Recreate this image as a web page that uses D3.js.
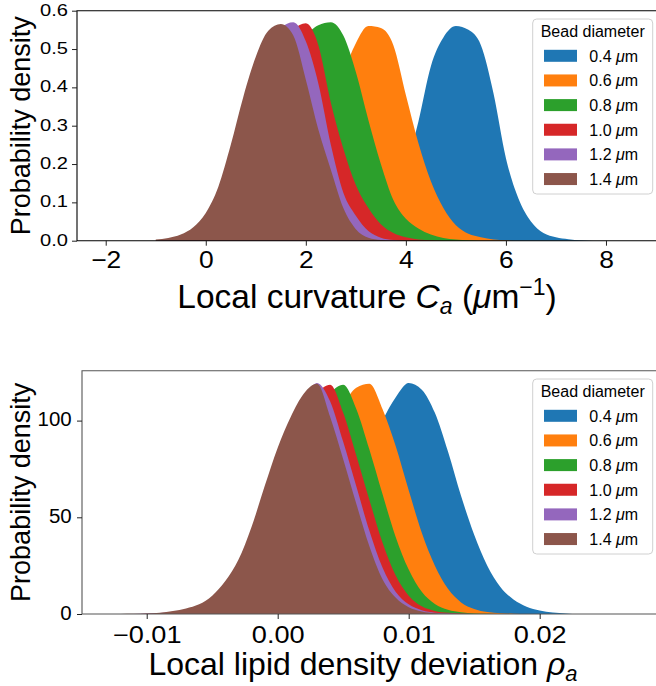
<!DOCTYPE html>
<html>
<head>
<meta charset="utf-8">
<script src="https://cdn.jsdelivr.net/npm/d3@7"></script>
<style>
  body { margin: 0; background: #fff; }
  svg { display: block; font-family: "Liberation Sans", Arial, sans-serif; }
</style>
</head>
<body>
<div id="chart"></div>
<script>
// legend labels and colours (tab10)
var beadLabels = ["0.4", "0.6", "0.8", "1.0", "1.2", "1.4"];
var beadColors = ["#1f77b4", "#ff7f0e", "#2ca02c", "#d62728", "#9467bd", "#8c564b"];

// ---- top panel: local curvature, bin centres (um^-1) ----
var curvBins = [-1.0, -0.75, -0.5, -0.25, 0.0, 0.25, 0.5, 0.75, 1.0, 1.25, 1.5, 1.75, 2.0, 2.25, 2.5, 2.75,
  3.0, 3.25, 3.5, 3.75, 4.0, 4.25, 4.5, 4.75, 5.0, 5.25, 5.5, 5.75, 6.0, 6.25, 6.5, 6.75, 7.0, 7.25, 7.5,
  7.75, 8.0, 8.25, 8.5];
var curv04 = [0, 0, 0, 0, 0, 0, 0, 0, 0, 0, 0, 0, 0.001, 0.002, 0.005, 0.01, 0.02, 0.035, 0.06, 0.11, 0.19,
  0.31, 0.455, 0.53, 0.56, 0.55, 0.51, 0.385, 0.215, 0.11, 0.05, 0.02, 0.009, 0.004, 0.001, 0, 0, 0, 0];
var curv06 = [0, 0, 0, 0, 0, 0.001, 0.003, 0.007, 0.016, 0.032, 0.06, 0.1, 0.16, 0.245, 0.34, 0.435, 0.515,
  0.56, 0.555, 0.51, 0.38, 0.255, 0.155, 0.085, 0.04, 0.018, 0.009, 0.003, 0.001, 0, 0, 0, 0, 0, 0, 0, 0, 0, 0];
var curv08 = [0, 0, 0.001, 0.003, 0.008, 0.018, 0.04, 0.08, 0.145, 0.235, 0.345, 0.45, 0.53, 0.562, 0.57,
  0.535, 0.44, 0.315, 0.2, 0.106, 0.057, 0.032, 0.016, 0.007, 0.003, 0.001, 0, 0, 0, 0, 0, 0, 0, 0, 0, 0, 0, 0, 0];
var curv10 = [0, 0.001, 0.004, 0.01, 0.022, 0.045, 0.09, 0.165, 0.265, 0.38, 0.48, 0.55, 0.567, 0.51, 0.36,
  0.24, 0.145, 0.085, 0.043, 0.02, 0.009, 0.003, 0.001, 0, 0, 0, 0, 0, 0, 0, 0, 0, 0, 0, 0, 0, 0, 0, 0];
var curv12 = [0.001, 0.004, 0.01, 0.022, 0.045, 0.09, 0.165, 0.27, 0.385, 0.49, 0.555, 0.57, 0.52, 0.41,
  0.25, 0.125, 0.065, 0.025, 0.008, 0.002, 0, 0, 0, 0, 0, 0, 0, 0, 0, 0, 0, 0, 0, 0, 0, 0, 0, 0, 0];
var curv14 = [0.003, 0.007, 0.016, 0.035, 0.072, 0.14, 0.25, 0.375, 0.48, 0.548, 0.565, 0.535, 0.42, 0.29,
  0.185, 0.085, 0.03, 0.008, 0.002, 0, 0, 0, 0, 0, 0, 0, 0, 0, 0, 0, 0, 0, 0, 0, 0, 0, 0, 0, 0];
var curvTicksX = [-2, 0, 2, 4, 6, 8];
var curvTicksY = [0.0, 0.1, 0.2, 0.3, 0.4, 0.5, 0.6];

// ---- bottom panel: local lipid density deviation, bin centres ----
var rhoBins = [-0.012, -0.011, -0.010, -0.009, -0.008, -0.007, -0.006, -0.005, -0.004, -0.003, -0.002,
  -0.001, 0.000, 0.001, 0.002, 0.003, 0.004, 0.005, 0.006, 0.007, 0.008, 0.009, 0.010, 0.011, 0.012, 0.013,
  0.014, 0.015, 0.016, 0.017, 0.018, 0.019, 0.020, 0.021, 0.022, 0.023, 0.024];
var rho04 = [0, 0, 0, 0, 0, 0, 0, 0, 0.1, 0.2, 0.5, 1.1, 2.5, 5, 9.5, 17, 29, 45, 64, 84, 100, 112, 119.5, 116,
  104, 84, 61, 41, 25, 14, 7.5, 3.8, 1.8, 0.8, 0.3, 0, 0];
var rho06 = [0, 0, 0, 0, 0.1, 0.3, 0.6, 1.3, 2.5, 4.5, 8, 14, 24, 38, 56, 76, 94, 108, 117, 119, 106, 87, 64,
  42, 25, 13, 6, 2.6, 1, 0.4, 0.1, 0, 0, 0, 0, 0, 0];
var rho08 = [0, 0, 0, 0.1, 0.3, 0.7, 1.5, 2.8, 5.5, 10, 18, 30, 47, 67, 86, 103, 114, 118.5, 106, 85, 62, 40,
  23, 11.5, 5.2, 2.2, 0.9, 0.3, 0.1, 0, 0, 0, 0, 0, 0, 0, 0];
var rho10 = [0, 0, 0.1, 0.3, 0.7, 1.5, 2.8, 5, 9.5, 17, 29, 46, 66, 86, 103, 114, 118.5, 104, 82, 59, 37, 20,
  9.5, 4, 1.6, 0.6, 0.2, 0, 0, 0, 0, 0, 0, 0, 0, 0, 0];
var rho12 = [0, 0.05, 0.2, 0.5, 1.1, 2.2, 3.8, 7.5, 14, 24, 39, 58, 79, 97, 111, 119.5, 110, 89, 66, 43, 24,
  11.5, 5, 2, 0.7, 0.2, 0, 0, 0, 0, 0, 0, 0, 0, 0, 0, 0];
var rho14 = [0, 0.1, 0.3, 0.7, 1.5, 2.9, 5, 9.5, 17, 28, 45, 66, 86, 102, 114, 119, 102, 80, 57, 35, 18,
  8.5, 3.5, 1.3, 0.4, 0.1, 0, 0, 0, 0, 0, 0, 0, 0, 0, 0, 0];
var rhoTicksX = [-0.01, 0.0, 0.01, 0.02];
var rhoTicksY = [0, 50, 100];

var svg = d3.select("#chart").append("svg")
    .attr("width", 656)
    .attr("height", 686);

function drawPanel(p) {
  var x = d3.scaleLinear().domain(p.xDomain).range([p.left, p.right]);
  var y = d3.scaleLinear().domain(p.yDomain).range([p.bottom, p.top]);

  // histograms, 0.4 first so 1.4 ends up on top
  var area = d3.area()
      .x(function (d) { return x(d[0]); })
      .y0(y(0))
      .y1(function (d) { return y(d[1]); })
      .curve(d3.curveMonotoneX);
  p.series.forEach(function (vals, i) {
    var pts = p.bins.map(function (b, j) { return [b, vals[j]]; });
    svg.append("path")
        .attr("d", area(pts))
        .attr("fill", beadColors[i]);
  });

  // frame (right spine is off the picture)
  svg.append("path")
      .attr("d", "M" + p.right + "," + p.top + "H" + p.left + "V" + p.bottom + "H" + p.right)
      .attr("fill", "none")
      .attr("stroke", p.frame)
      .attr("stroke-width", 1.1);

  // x axis
  var gx = svg.append("g")
      .attr("transform", "translate(0," + p.bottom + ")")
      .call(d3.axisBottom(x).tickValues(p.xTicks).tickFormat(d3.format(p.xFmt))
            .tickSize(5).tickPadding(p.xPad));
  gx.select(".domain").remove();
  gx.selectAll("line").attr("stroke", "#222");
  gx.selectAll("text")
      .attr("font-size", p.xFont)
      .attr("fill", "#000")
      .attr("font-family", "Liberation Sans, Arial, sans-serif")
      .attr("transform", "scale(" + p.xStretch + ",1)");

  // y axis
  var gy = svg.append("g")
      .attr("transform", "translate(" + p.left + ",0)")
      .call(d3.axisLeft(y).tickValues(p.yTicks).tickFormat(d3.format(p.yFmt)).tickSize(5));
  gy.select(".domain").remove();
  gy.selectAll("line").attr("stroke", "#222");
  gy.selectAll("text")
      .attr("font-size", p.yFont)
      .attr("fill", "#000")
      .attr("font-family", "Liberation Sans, Arial, sans-serif")
      .attr("x", -p.yGap / p.yStretch)
      .attr("dy", "0.27em")
      .attr("transform", "scale(" + p.yStretch + ",1)");

  // y label
  svg.append("text")
      .attr("transform", "translate(30," + ((p.top + p.bottom) / 2) + ") rotate(-90)")
      .attr("text-anchor", "middle")
      .attr("font-size", 27)
      .text("Probability density");

  // x label with math parts
  var xl = svg.append("text")
      .attr("x", p.xLabelX)
      .attr("y", p.xLabelY)
      .attr("text-anchor", "middle")
      .attr("font-size", p.xLabelSize);
  p.xLabel(xl);

  // legend
  var lg = svg.append("g").attr("transform", "translate(532.7," + (p.top + 8.3) + ")");
  lg.append("rect")
      .attr("width", 120).attr("height", 175).attr("rx", 4)
      .attr("fill", "#fff").attr("fill-opacity", 0.8)
      .attr("stroke", "#d0d0d0").attr("stroke-width", 1);
  lg.append("text")
      .attr("x", 60).attr("y", 18.3)
      .attr("text-anchor", "middle")
      .attr("font-size", 16)
      .text("Bead diameter");
  beadLabels.forEach(function (lab, i) {
    var cy = 36.8 + i * 24.65;
    lg.append("rect")
        .attr("x", 11.3).attr("y", cy - 6)
        .attr("width", 33).attr("height", 12)
        .attr("fill", beadColors[i]);
    var t = lg.append("text")
        .attr("x", 56.6).attr("y", cy + 5.8)
        .attr("font-size", 16);
    t.append("tspan").text(lab + " ");
    t.append("tspan").attr("font-style", "italic").text("\u03bc");
    t.append("tspan").text("m");
  });
}

drawPanel({
  left: 77, right: 656, top: 10.7, bottom: 240.7,
  xDomain: [-2.574, 9.0], yDomain: [0, 0.6],
  bins: curvBins,
  series: [curv04, curv06, curv08, curv10, curv12, curv14],
  xTicks: curvTicksX, xFmt: "d", xFont: 24, xStretch: 1.1, xPad: 5.5,
  yTicks: curvTicksY, yFmt: ".1f", yFont: 16.5, yStretch: 1.22, yGap: 9,
  frame: "#000",
  xLabelX: 367, xLabelY: 308, xLabelSize: 33.5,
  xLabel: function (t) {
    t.append("tspan").text("Local curvature ");
    t.append("tspan").attr("font-style", "italic").text("C");
    t.append("tspan").attr("font-style", "italic").attr("font-size", 23).attr("dy", 6).text("a");
    t.append("tspan").attr("dy", -6).text(" (");
    t.append("tspan").attr("font-style", "italic").text("\u03bc");
    t.append("tspan").text("m");
    t.append("tspan").attr("font-size", 23).attr("dy", -13).text("\u22121");
    t.append("tspan").attr("dy", 13).text(")");
  }
});

drawPanel({
  left: 82, right: 656, top: 370.7, bottom: 614,
  xDomain: [-0.01494, 0.02888], yDomain: [0, 125.8],
  bins: rhoBins,
  series: [rho04, rho06, rho08, rho10, rho12, rho14],
  xTicks: rhoTicksX, xFmt: ".2f", xFont: 23, xStretch: 1.18, xPad: 7.5,
  yTicks: rhoTicksY, yFmt: "d", yFont: 19.5, yStretch: 1.05, yGap: 10.3,
  frame: "#555",
  xLabelX: 363, xLabelY: 675, xLabelSize: 32,
  xLabel: function (t) {
    t.append("tspan").text("Local lipid density deviation ");
    t.append("tspan").attr("font-style", "italic").text("\u03c1");
    t.append("tspan").attr("font-style", "italic").attr("font-size", 22).attr("dy", 6).text("a");
  }
});
</script>
</body>
</html>
